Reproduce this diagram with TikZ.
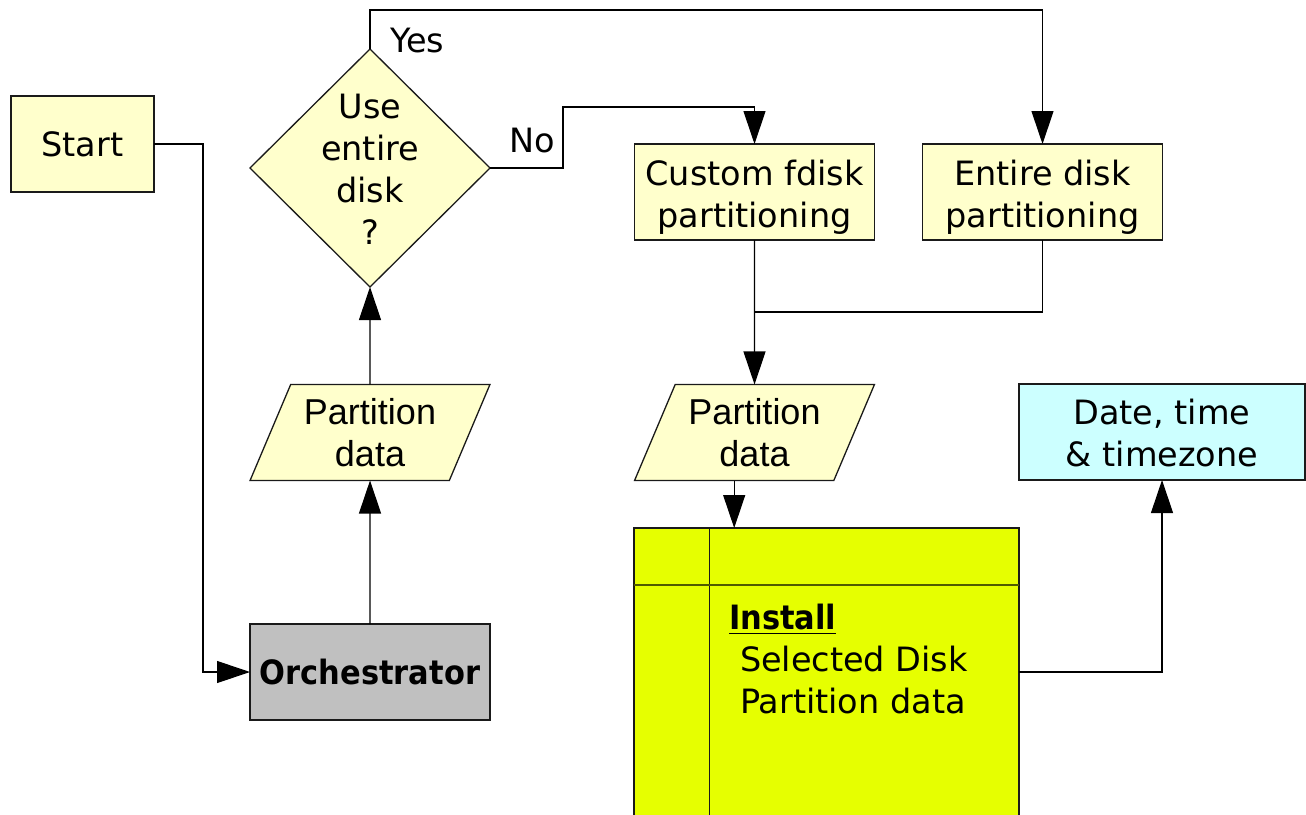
\documentclass[tikz,border=0pt]{standalone}
\usepackage{fontspec}
\usepackage{graphicx}
\setmainfont{DejaVu Sans}
\newfontfamily\arialfont{Liberation Sans}
\usetikzlibrary{arrows.meta,shapes.geometric}
\definecolor{paleyellow}{HTML}{FFFFCC}
\definecolor{orchgray}{HTML}{C0C0C0}
\definecolor{datecyan}{HTML}{CCFFFF}
\definecolor{installgreen}{HTML}{E6FF00}
\definecolor{edge}{HTML}{1A1A1A}
\definecolor{rowline}{HTML}{4F5A00}
% bold heading with a thick underline
\newcommand\headline[1]{\setbox0\hbox{#1}\rlap{\rule[-5pt]{\wd0}{1.8pt}}\box0}
% invisible strut that lowers two-line box text a little
\newcommand\lowerstrut{\rule{0pt}{35.5pt}}
\begin{document}
\begin{tikzpicture}[x=1pt,y=-1pt,
  every node/.style={inner sep=0pt,outer sep=0pt},
  txt/.style={font=\fontsize{33.5}{42}\selectfont,align=center},
  procbox/.style={txt,draw=edge,line width=1.3pt,fill=paleyellow,
    minimum width=240pt,minimum height=96pt},
  datashape/.style={txt,font=\arialfont\fontsize{36}{42}\selectfont,
    trapezium,trapezium left angle=63.7,trapezium right angle=116.3,
    trapezium stretches=true,draw=edge,line width=1.3pt,fill=paleyellow,
    minimum width=240pt,minimum height=96pt},
  decision/.style={diamond,draw=edge,line width=1.3pt,fill=paleyellow,
    minimum width=240pt,minimum height=238pt},
  link/.style={line width=1.1pt,draw=black},
  arr/.style={link,-{Triangle[length=33pt,width=22pt]}},
  lbl/.style={font=\fontsize{33.5}{42}\selectfont,anchor=base west}]
\useasboundingbox (0,0) rectangle (1306,814);
\clip (0,0) rectangle (1306,814);

% nodes
\node[procbox,minimum width=143pt] (start) at (82.5,144) {Start};
\node[decision] (dia) at (370,168) {};
\node[txt] (diaq) at ([yshift=-1.5pt]dia.center) {Use\\entire\\disk\\?};
\node[datashape] (pdL) at (370,432.5) {Partition\\data};
\node[procbox,fill=orchgray,font=\fontsize{33.5}{42}\selectfont\bfseries]
  (orch) at (370,672) {\scalebox{0.91}[1]{Orchestrator}};
\node[procbox] (cus) at (754.5,192) {\lowerstrut Custom fdisk\\partitioning};
\node[procbox] (ent) at (1042.5,192) {\lowerstrut Entire disk\\partitioning};
\node[datashape] (pdR) at (754.5,432.5) {Partition\\data};
\node[procbox,fill=datecyan,minimum width=286pt] (date) at (1162,432)
  {\rule{0pt}{28pt}Date, time\\\& timezone};
\node[draw=edge,line width=1.3pt,fill=installgreen,minimum width=385pt,
  minimum height=400pt] (inst) at (826.5,728) {};
\draw[edge,line width=1.2pt] ([xshift=75.5pt]inst.north west)
  -- ([xshift=75.5pt]inst.south west);
\draw[rowline,line width=2pt] ([yshift=-57pt]inst.north west)
  -- ([yshift=-57pt]inst.north east);
\node[txt,align=left,anchor=north west] (insttxt) at (729,604)
  {\headline{\scalebox{0.91}[1]{\bfseries Install}}\\
   \hspace*{11pt}Selected Disk\\
   \hspace*{11pt}Partition data};

% branch labels
\node[lbl] (yes) at (390,52) {Yes};
\node[lbl] (no) at (509,152) {No};

% connectors
\coordinate (elbowS) at (203,672);
\coordinate (yesTop) at (370,10);
\coordinate (noTop) at (563,107);
\coordinate (merge) at (754.5,312);
\draw[arr] (start.east) -| (elbowS) -- (orch.west);
\draw[arr] (orch.north) -- (pdL.south);
\draw[arr] (pdL.north) -- (dia.south);
\draw[arr] (dia.north) -- (yesTop) -| (ent.north);
\draw[arr] (dia.east) -| (noTop) -| (cus.north);
\draw[link] (ent.south) |- (merge);
\draw[arr] (cus.south) -- (pdR.north);
\draw[arr] (pdR.bottom side) -- (pdR.bottom side |- inst.north);
\draw[arr] ([yshift=-144pt]inst.north east) -| (date.south);
\end{tikzpicture}
\end{document}
